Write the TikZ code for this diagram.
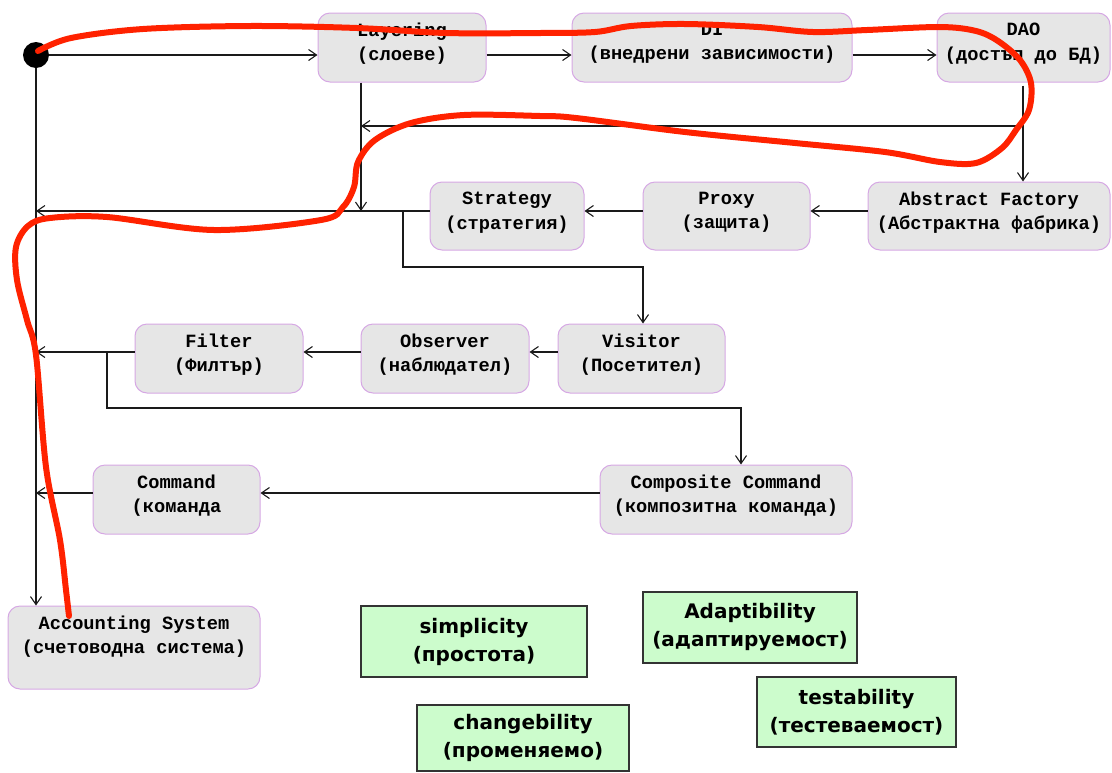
\documentclass[tikz,border=0pt]{standalone}
\usepackage{fontspec}
\setmonofont{Liberation Mono}
\newfontfamily\qualfont{DejaVu Sans}
\usetikzlibrary{arrows.meta}

\definecolor{boxfill}{HTML}{E6E6E6}
\definecolor{boxedge}{HTML}{D6A8E4}
\definecolor{qualfill}{HTML}{CCFCCC}
\definecolor{qualedge}{HTML}{333333}
\definecolor{wire}{HTML}{1A1A1A}
\definecolor{marker}{HTML}{FF2200}

\tikzset{
  pattern box/.style={draw=boxedge, fill=boxfill, line width=1pt, rounded corners=12pt, inner sep=0pt},
  pattern text/.style={font=\ttfamily\bfseries\fontsize{18.7}{24.5}\selectfont, align=center, inner sep=0pt, text=black},
  quality/.style={draw=qualedge, fill=qualfill, line width=1.5pt, inner sep=0pt, align=center,
    font=\qualfont\bfseries\fontsize{20}{28}\selectfont},
  arr/.style={draw=wire, line width=1.1pt, -{Straight Barb[length=8pt,width=11pt,line width=1.1pt]}},
  redline/.style={draw=marker, line width=6pt, line cap=round, line join=round}
}

\begin{document}
\begin{tikzpicture}[x=1pt, y=-1pt]
\useasboundingbox (0,0) rectangle (1112,772);

% pattern boxes
\node[pattern box, minimum width=168, minimum height=69] (layer) at (402,47.5) {};
\node[pattern box, minimum width=280, minimum height=69] (di) at (712,47.5) {};
\node[pattern box, minimum width=173, minimum height=69] (dao) at (1023.5,47.5) {};
\node[pattern box, minimum width=242, minimum height=68] (absfac) at (989,216) {};
\node[pattern box, minimum width=167, minimum height=68] (proxy) at (726.5,216) {};
\node[pattern box, minimum width=154, minimum height=68] (strategy) at (507,216) {};
\node[pattern box, minimum width=167, minimum height=69] (visitor) at (641.5,358.5) {};
\node[pattern box, minimum width=168, minimum height=69] (observer) at (445,358.5) {};
\node[pattern box, minimum width=168, minimum height=69] (filter) at (219,358.5) {};
\node[pattern box, minimum width=252, minimum height=69] (composite) at (726,499.5) {};
\node[pattern box, minimum width=167, minimum height=69] (command) at (176.5,499.5) {};
\node[pattern box, minimum width=252, minimum height=83] (accounting) at (134,647.5) {};

% pattern labels
\node[pattern text] (layer-t) at (402,43.5) {Layering\\(слоеве)};
\node[pattern text] (di-t) at (712,43.5) {DI\\(внедрени зависимости)};
\node[pattern text] (dao-t) at (1023.5,43.5) {DAO\\(достъп до БД)};
\node[pattern text] (absfac-t) at (989,212.5) {Abstract Factory\\(Абстрактна фабрика)};
\node[pattern text] (proxy-t) at (726.5,212.5) {Proxy\\(защита)};
\node[pattern text] (strategy-t) at (507,212.5) {Strategy\\(стратегия)};
\node[pattern text] (visitor-t) at (641.5,354.5) {Visitor\\(Посетител)};
\node[pattern text] (observer-t) at (445,354.5) {Observer\\(наблюдател)};
\node[pattern text] (filter-t) at (219,354.5) {Filter\\(Филтър)};
\node[pattern text] (composite-t) at (726,495.5) {Composite Command\\(композитна команда)};
\node[pattern text] (command-t) at (176.5,495.5) {Command\\(команда};
\node[pattern text] (accounting-t) at (134,636.5) {Accounting System\\(счетоводна система)};

% quality attributes
\node[quality, minimum width=226, minimum height=71] (simplicity) at (474,641.5) {simplicity\\(простота)};
\node[quality, minimum width=212, minimum height=66] (changebility) at (523,738) {changebility\\(променяемо)};
\node[quality, minimum width=214, minimum height=71] (adapt) at (750,627.5) {Adaptibility\\(адаптируемост)};
\node[quality, minimum width=199, minimum height=70] (testability) at (856.5,712) {testability\\(тестеваемост)};

% start point
\node[circle, fill=black, minimum size=26, inner sep=0pt] (start) at (36,55) {};

% junction levels and bend points
\coordinate (row1) at (0,55);
\coordinate (row2) at (0,211);
\coordinate (row3) at (0,352);
\coordinate (row4) at (0,493);
\coordinate (daox) at (1023,126);
\coordinate (layx) at (361,126);
\coordinate (laybot) at (361,211);
\coordinate (stratx) at (403,211);
\coordinate (visbend) at (643,267);
\coordinate (filtx) at (107,352);
\coordinate (compbend) at (741,408);

% top row
\draw[arr] (start) -- (start -| layer.west);
\draw[arr] (layer.east |- row1) -- (di.west |- row1);
\draw[arr] (di.east |- row1) -- (dao.west |- row1);
\draw[arr] ([yshift=-3pt]dao.south -| daox) -- (absfac.north -| daox);
\draw[arr] (daox) -- (layx);
\draw[arr] (layer.south -| layx) -- (laybot);

% second row
\draw[arr] (absfac.west |- row2) -- (proxy.east |- row2);
\draw[arr] (proxy.west |- row2) -- (strategy.east |- row2);
\draw[arr] (strategy.west |- row2) -- (start |- row2);
\draw[arr] (stratx) |- (visbend) -- (visitor.north -| visbend);

% third row
\draw[arr] (visitor.west |- row3) -- (observer.east |- row3);
\draw[arr] (observer.west |- row3) -- (filter.east |- row3);
\draw[arr] (filter.west |- row3) -- (start |- row3);
\draw[arr] (filtx) |- (compbend) -- (composite.north -| compbend);

% fourth row
\draw[arr] (composite.west |- row4) -- (command.east |- row4);
\draw[arr] (command.west |- row4) -- (start |- row4);

% main spine
\draw[arr] (start) -- (start |- accounting.north);

% freehand red stroke
\draw[redline] plot[smooth, tension=0.55] coordinates {
  (38,51) (71,38) (143,29) (250,26) (357,28) (446,33) (540,33) (595,32)
  (631,26) (685,24) (758,27) (813,32) (867,30) (940,27) (976,31) (998,41)
  (1020,60) (1031,83) (1029,110) (1016,130) (1002,148) (976,163) (940,162)
  (885,152) (795,143) (685,132) (576,118) (540,116) (464,115) (411,123)
  (375,140) (358,162) (354,187) (343,207) (321,220) (214,230) (107,217)
  (50,218) (28,226) (16,247) (17,280) (27,320) (36,355) (46,467) (60,540)
  (66,590) (69,616)
};

\end{tikzpicture}
\end{document}
